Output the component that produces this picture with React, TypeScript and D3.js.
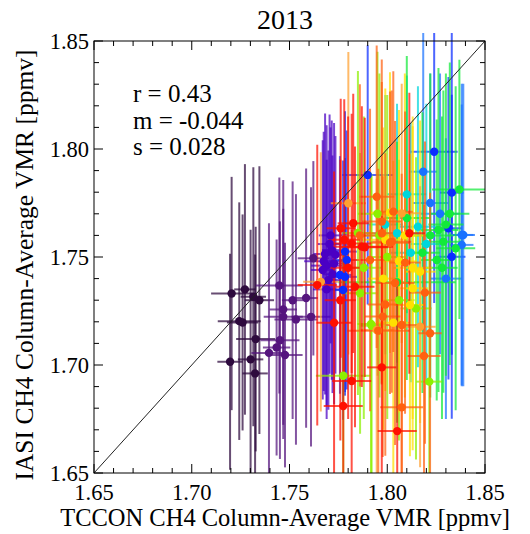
import React from "react";
import * as d3 from "d3";

// palette, IDL rainbow-like, index = colour group
const palette = [
  "#2e0a3e", "#55157e", "#4a00c4", "#0a2cff", "#1a72ff", "#00d6dc",
  "#12ea3a", "#8cf000", "#ffe000", "#ffa030", "#ff6010", "#ff1000",
];

// TCCON (x), IASI (y), errors, colour group (values listed group by group)
const tccon = [
  1.7204, 1.7272, 1.7315, 1.7346, 1.7243, 1.7260, 1.7327, 1.7196, 1.7301, 1.7324,
  1.7448, 1.7516, 1.7468, 1.7468, 1.7533, 1.7610, 1.7451, 1.7434, 1.7395, 1.7477, 1.7622, 1.7585,
  1.7682, 1.7716, 1.7699, 1.7690, 1.7705, 1.7720, 1.7675, 1.7728, 1.7670, 1.7735, 1.7710, 1.7690,
  1.7784, 1.7793, 1.7758, 1.7774, 1.7784, 1.8330, 1.8313, 1.8330, 1.8240, 1.7900,
  1.8184, 1.8389, 1.8381, 1.8381, 1.8270, 1.8300, 1.8220,
  1.8157, 1.8050, 1.8100, 1.8200, 1.8120, 1.7990,
  1.8369, 1.8262, 1.8287, 1.8253, 1.8220, 1.8300, 1.8100, 1.8050, 1.8320, 1.8180, 1.8280, 1.8350,
  1.7850, 1.7917, 1.7775, 1.8215, 1.8147, 1.7861, 1.7920, 1.7950, 1.8000, 1.7880, 1.8060, 1.7960,
  1.8130, 1.8130, 1.8031, 1.8116, 1.8168, 1.8014, 1.7990, 1.8060, 1.8090, 1.7980,
  1.7801, 1.8074, 1.7946, 1.8168, 1.7660,
  1.7946, 1.7972, 1.8023, 1.7972, 1.7912, 1.8091, 1.8193, 1.8031, 1.7954, 1.8074, 1.8219, 1.8188, 1.8074, 1.7977, 1.8014, 1.7860, 1.8040, 1.7990,
  1.7762, 1.7826, 1.7818, 1.7870, 1.7885, 1.7642, 1.7835, 1.8113, 1.7728, 1.7972, 1.7818, 1.7775, 1.8051, 1.7780, 1.7800, 1.7760,
];
const iasi = [
  1.7331, 1.7350, 1.7316, 1.7300, 1.7203, 1.7197, 1.7120, 1.7015, 1.7026, 1.6961,
  1.7368, 1.7300, 1.7257, 1.7223, 1.7211, 1.7223, 1.7115, 1.7081, 1.7056, 1.7046, 1.7494, 1.7310,
  1.7514, 1.7532, 1.7393, 1.7460, 1.7560, 1.7420, 1.7480, 1.7470, 1.7440, 1.7510, 1.7600, 1.7350,
  1.7525, 1.7486, 1.7417, 1.7347, 1.7408, 1.7798, 1.7633, 1.7501, 1.7987, 1.7880,
  1.7895, 1.7602, 1.7556, 1.7602, 1.7700, 1.7400, 1.7750,
  1.7640, 1.7610, 1.7790, 1.7560, 1.7520, 1.7650,
  1.7813, 1.7625, 1.7571, 1.7486, 1.7600, 1.7650, 1.7680, 1.7383, 1.7700, 1.7520, 1.7450, 1.7540,
  1.7611, 1.7190, 1.6950, 1.6923, 1.7262, 1.7332, 1.7182, 1.7700, 1.7500, 1.7450, 1.7300, 1.7600,
  1.7450, 1.7355, 1.7196, 1.7278, 1.7432, 1.7705, 1.7580, 1.7480, 1.7600, 1.7400,
  1.7749, 1.7702, 1.7162, 1.7177, 1.7385,
  1.7779, 1.7664, 1.7571, 1.7610, 1.7486, 1.7474, 1.7335, 1.7710, 1.7159, 1.7185, 1.7147, 1.7042, 1.6804, 1.7224, 1.7566, 1.7600, 1.7380, 1.7280,
  1.7633, 1.7656, 1.7563, 1.7548, 1.7545, 1.7370, 1.7362, 1.7610, 1.7196, 1.6989, 1.6926, 1.6810, 1.6694, 1.7580, 1.7450, 1.7300,
];
const tcconErr = [
  0.0105, 0.0055, 0.0065, 0.0075, 0.011, 0.008, 0.010, 0.0065, 0.0065, 0.0065,
  0.012, 0.0055, 0.007, 0.010, 0.011, 0.010, 0.010, 0.007, 0.009, 0.009, 0.008, 0.006,
  0.006, 0.005, 0.006, 0.008, 0.006, 0.005, 0.010, 0.005, 0.006, 0.005, 0.006, 0.007,
  0.006, 0.006, 0.006, 0.005, 0.006, 0.006, 0.007, 0.007, 0.012, 0.013,
  0.007, 0.006, 0.006, 0.006, 0.010, 0.008, 0.009,
  0.010, 0.012, 0.010, 0.008, 0.010, 0.009,
  0.014, 0.010, 0.010, 0.008, 0.012, 0.009, 0.012, 0.030, 0.010, 0.009, 0.008, 0.010,
  0.008, 0.007, 0.014, 0.0066, 0.008, 0.009, 0.006, 0.010, 0.010, 0.009, 0.008, 0.010,
  0.010, 0.008, 0.009, 0.008, 0.008, 0.010, 0.012, 0.009, 0.010, 0.008,
  0.009, 0.010, 0.009, 0.008, 0.009,
  0.009, 0.010, 0.010, 0.008, 0.010, 0.008, 0.008, 0.010, 0.016, 0.008, 0.006, 0.0085, 0.011, 0.009, 0.010, 0.009, 0.010, 0.009,
  0.0072, 0.008, 0.010, 0.016, 0.012, 0.010, 0.010, 0.008, 0.009, 0.0075, 0.010, 0.010, 0.010, 0.008, 0.009, 0.008,
];
const iasiErr = [
  0.054, 0.058, 0.060, 0.062, 0.055, 0.050, 0.052, 0.050, 0.060, 0.055,
  0.050, 0.055, 0.060, 0.050, 0.058, 0.060, 0.055, 0.050, 0.060, 0.052, 0.045, 0.060,
  0.065, 0.060, 0.060, 0.065, 0.060, 0.055, 0.060, 0.065, 0.060, 0.055, 0.050, 0.060,
  0.065, 0.060, 0.055, 0.060, 0.055, 0.075, 0.070, 0.075, 0.070, 0.060,
  0.075, 0.070, 0.065, 0.070, 0.065, 0.065, 0.060,
  0.065, 0.060, 0.055, 0.065, 0.060, 0.060,
  0.060, 0.075, 0.070, 0.065, 0.075, 0.070, 0.075, 0.065, 0.070, 0.065, 0.070, 0.075,
  0.075, 0.070, 0.060, 0.060, 0.070, 0.065, 0.070, 0.075, 0.075, 0.070, 0.065, 0.075,
  0.070, 0.075, 0.075, 0.070, 0.070, 0.065, 0.070, 0.070, 0.075, 0.070,
  0.070, 0.060, 0.070, 0.065, 0.060,
  0.070, 0.075, 0.070, 0.070, 0.070, 0.070, 0.070, 0.065, 0.075, 0.070, 0.065, 0.070, 0.070, 0.065, 0.070, 0.070, 0.075, 0.070,
  0.060, 0.060, 0.060, 0.065, 0.060, 0.065, 0.065, 0.065, 0.070, 0.070, 0.070, 0.070, 0.070, 0.065, 0.070, 0.065,
];
const groupSizes = [10, 12, 12, 10, 7, 6, 12, 12, 10, 5, 18, 16];
const group = groupSizes.flatMap((n, g) => d3.range(n).map(() => g));

const stats = ["r = 0.43", "m = -0.044", "s = 0.028"];
const title = "2013";
const xTitle = "TCCON CH4 Column-Average VMR [ppmv]";
const yTitle = "IASI CH4 Column-Average VMR [ppmv]";

const W = 530, H = 534;
const L = 94, R = 485, T = 41, B = 473;
const font = "'Liberation Serif', 'Times New Roman', serif";

export default function App() {
  const x = d3.scaleLinear().domain([1.65, 1.85]).range([L, R]);
  const y = d3.scaleLinear().domain([1.65, 1.85]).range([B, T]);
  const major = x.ticks(4);
  const minor = x.ticks(20);
  const pts = tccon.map((v, i) => ({
    x: v, y: iasi[i], xe: tcconErr[i], ye: iasiErr[i], c: palette[group[i]],
  }));
  const diag = d3.line<number>().x((d) => x(d)).y((d) => y(d));

  return (
    <div style={{ position: "absolute", left: 0, top: 0 }}>
      <svg width={W} height={H} style={{ display: "block", background: "#fff" }}>
        <defs>
          <clipPath id="plotClip">
            <rect x={L} y={33} width={R - L} height={B - 33} />
          </clipPath>
        </defs>
        <g clipPath="url(#plotClip)">
          {pts.map((p, i) => (
            <g key={"e" + i} stroke={p.c} strokeWidth={2} opacity={0.72}>
              <line x1={x(p.x)} x2={x(p.x)} y1={y(p.y - p.ye)} y2={y(p.y + p.ye)} />
              <line x1={x(p.x - p.xe)} x2={x(p.x + p.xe)} y1={y(p.y)} y2={y(p.y)} />
            </g>
          ))}
          {pts.map((p, i) => (
            <circle key={"p" + i} cx={x(p.x)} cy={y(p.y)} r={4.2} fill={p.c} />
          ))}
        </g>
        <path d={diag([1.65, 1.85]) || ""} stroke="#222" strokeWidth={1} fill="none" />
        <rect x={L} y={T} width={R - L} height={B - T} fill="none" stroke="#000" strokeWidth={1} />
        {minor.map((t) => {
          const len = major.some((m) => Math.abs(m - t) < 1e-9) ? 9 : 5;
          return (
            <g key={"t" + t} stroke="#000" strokeWidth={1}>
              <line x1={x(t)} x2={x(t)} y1={B} y2={B - len} />
              <line x1={x(t)} x2={x(t)} y1={T} y2={T + len} />
              <line x1={L} x2={L + len} y1={y(t)} y2={y(t)} />
              <line x1={R} x2={R - len} y1={y(t)} y2={y(t)} />
            </g>
          );
        })}
        <g fontFamily={font} fill="#000">
          {major.map((t) => (
            <text key={"xl" + t} x={x(t)} y={500} fontSize={22.5} textAnchor="middle">
              {t.toFixed(2)}
            </text>
          ))}
          {major.map((t) => (
            <text key={"yl" + t} x={89} y={y(t) + 8} fontSize={22.5} textAnchor="end">
              {t.toFixed(2)}
            </text>
          ))}
          <text x={285} y={29} fontSize={28} textAnchor="middle">{title}</text>
          <text x={285} y={526} fontSize={24.5} textAnchor="middle">{xTitle}</text>
          <text transform="translate(33,265) rotate(-90)" fontSize={25.5} textAnchor="middle">{yTitle}</text>
          {stats.map((s, i) => (
            <text key={s} x={133} y={102 + i * 26.5} fontSize={25}>{s}</text>
          ))}
        </g>
      </svg>
    </div>
  );
}
